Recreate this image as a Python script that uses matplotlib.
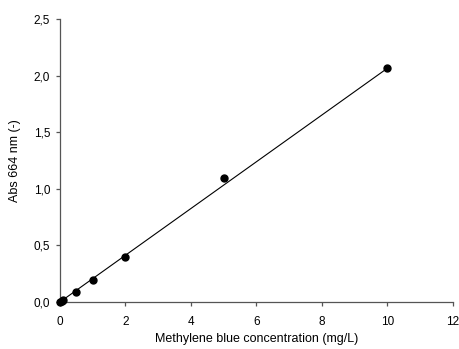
import matplotlib.pyplot as plt
import numpy as np
from matplotlib.ticker import FuncFormatter

plt.rcParams['font.family'] = ['Liberation Sans', 'DejaVu Sans']

# concentracion (mg/L) y absorbancia a 664 nm
conc = [0, 0.05, 0.1, 0.5, 1, 2, 5, 10]
absb = [0.0, 0.005, 0.015, 0.085, 0.195, 0.40, 1.095, 2.065]

# recta de ajuste
fit_x = [0, 10]
slope, intercept = 0.2065, 0.0

fig = plt.figure(figsize=(4.59, 3.49), dpi=100)
ax = fig.add_axes([0.1307, 0.1347, 0.8560, 0.8109])

fx = np.array(fit_x)
ax.plot(fx, slope * fx + intercept, color='black', lw=0.8)
ax.plot(conc, absb, 'o', color='black', ms=5, clip_on=False, zorder=3)

ax.set_xlim(0, 12)
ax.set_ylim(0, 2.5)
ax.set_xticks([0, 2, 4, 6, 8, 10, 12])
ax.set_yticks([0, 0.5, 1.0, 1.5, 2.0, 2.5])
ax.yaxis.set_major_formatter(FuncFormatter(lambda v, p: f'{v:.1f}'.replace('.', ',')))

for s in ['top', 'right']:
    ax.spines[s].set_visible(False)
for s in ['left', 'bottom']:
    ax.spines[s].set_color('#555555')
    ax.spines[s].set_linewidth(0.9)
ax.tick_params(direction='out', length=3, width=0.9, color='#555555', labelsize=8.5, pad=4)
ax.tick_params(axis='x', pad=7)

ax.set_xlabel('Methylene blue concentration (mg/L)', fontsize=9, labelpad=4)
ax.set_ylabel('Abs 664 nm (-)', fontsize=9, labelpad=9)

fig.savefig('out.png', dpi=100)
